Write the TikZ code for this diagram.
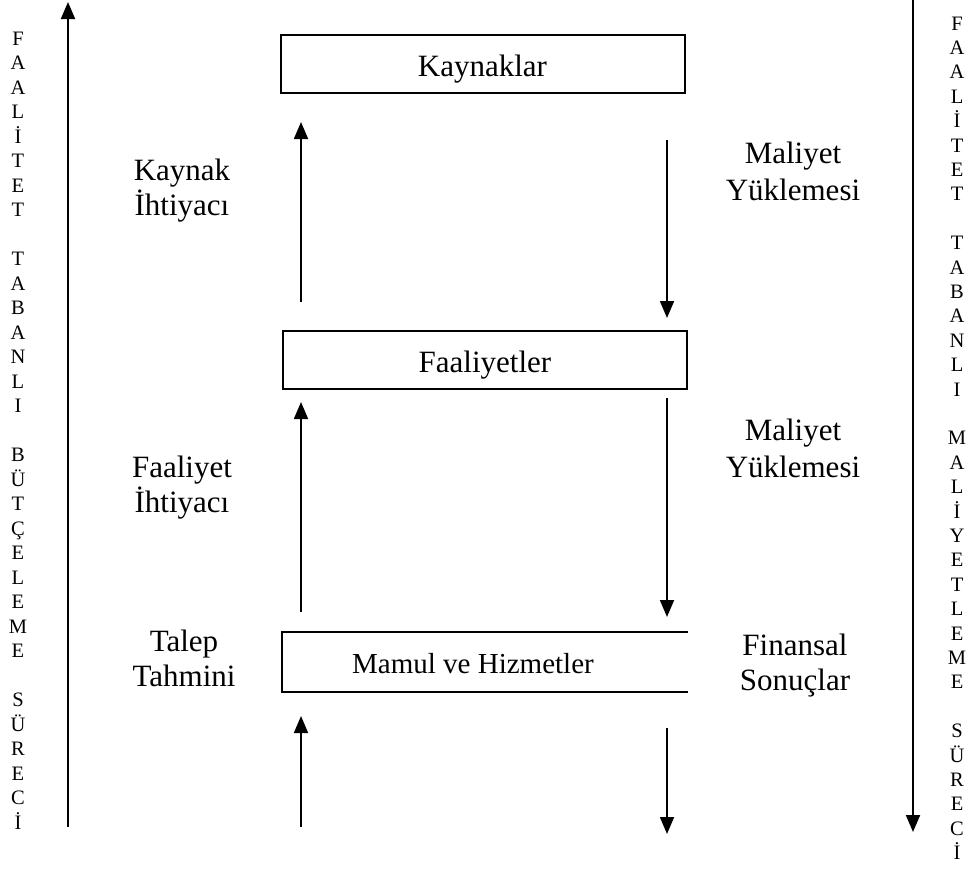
\documentclass[tikz,border=0pt]{standalone}
\usepackage{fontspec}
\setmainfont{Liberation Serif}
\usetikzlibrary{arrows.meta}
\begin{document}
\begin{tikzpicture}[x=1pt,y=-1pt,
  frame/.style={draw=black, line width=2pt, minimum width=404pt, minimum height=58pt, inner sep=0pt},
  boxtext/.style={anchor=base, inner sep=0pt, font=\fontsize{31}{36}\selectfont},
  label/.style={anchor=base, inner sep=0pt, font=\fontsize{31}{36}\selectfont},
  letter/.style={anchor=base, inner sep=0pt, font=\fontsize{20.5}{24}\selectfont},
  flow/.style={line width=1.8pt, -{Triangle[width=14pt,length=17pt]}}]
  \useasboundingbox (0,0) rectangle (969,870);

  % the three levels
  \node[frame] (kaynak) at (482.5,64) {};
  \node[boxtext] (kaynakT) at (482.5,76) {Kaynaklar};
  \node[frame] (faal) at (485,359.5) {};
  \node[boxtext] (faalT) at (485,372) {Faaliyetler};
  \node[frame, draw=none] (mamul) at (485,661.5) {};
  \draw[line width=2pt] (mamul.north east) -- (mamul.north west) -- (mamul.south west) -- (mamul.south east);
  \node[boxtext, font=\fontsize{29}{34}\selectfont] (mamulT) at (473,673) {Mamul ve Hizmetler};

  % side labels
  \node[label] (kl1) at (182,180) {Kaynak};
  \node[label] (kl2) at (182,215) {İhtiyacı};
  \node[label] (ml1) at (793,163) {Maliyet};
  \node[label] (ml2) at (793,200) {Yüklemesi};
  \node[label] (fl1) at (182,477) {Faaliyet};
  \node[label] (fl2) at (182,512) {İhtiyacı};
  \node[label] (ml3) at (793,440) {Maliyet};
  \node[label] (ml4) at (793,477) {Yüklemesi};
  \node[label] (tl1) at (184,651) {Talep};
  \node[label] (tl2) at (184,686) {Tahmini};
  \node[label] (sl1) at (795,655) {Finansal};
  \node[label] (sl2) at (795,690) {Sonuçlar};

  % arrow end points
  \coordinate (u1a) at (301,302); \coordinate (u1b) at (301,122);
  \coordinate (d1a) at (667,140); \coordinate (d1b) at (667,318);
  \coordinate (u2a) at (301,612); \coordinate (u2b) at (301,402);
  \coordinate (d2a) at (667,398); \coordinate (d2b) at (667,617);
  \coordinate (u3a) at (301,827); \coordinate (u3b) at (301,716);
  \coordinate (d3a) at (667,728); \coordinate (d3b) at (667,834);
  \coordinate (la) at (68,827);  \coordinate (lb) at (68,2);
  \coordinate (ra) at (913,0);   \coordinate (rb) at (913,832);

  \draw[flow] (u1a) -- (u1b);
  \draw[flow] (d1a) -- (d1b);
  \draw[flow] (u2a) -- (u2b);
  \draw[flow] (d2a) -- (d2b);
  \draw[flow] (u3a) -- (u3b);
  \draw[flow] (d3a) -- (d3b);
  \draw[flow, line width=2pt] (la) -- (lb);
  \draw[flow, line width=2pt] (ra) -- (rb);

  % vertical captions
  \foreach \ch [count=\i from 0] in {F,A,A,L,İ,T,E,T,{},T,A,B,A,N,L,I,{},B,Ü,T,Ç,E,L,E,M,E,{},S,Ü,R,E,C,İ}
    \node[letter] (lc\i) at (18,45+24.5*\i) {\ch};
  \foreach \ch [count=\i from 0] in {F,A,A,L,İ,T,E,T,{},T,A,B,A,N,L,I,{},M,A,L,İ,Y,E,T,L,E,M,E,{},S,Ü,R,E,C,İ}
    \node[letter] (rc\i) at (957,30+24.4*\i) {\ch};
\end{tikzpicture}
\end{document}
